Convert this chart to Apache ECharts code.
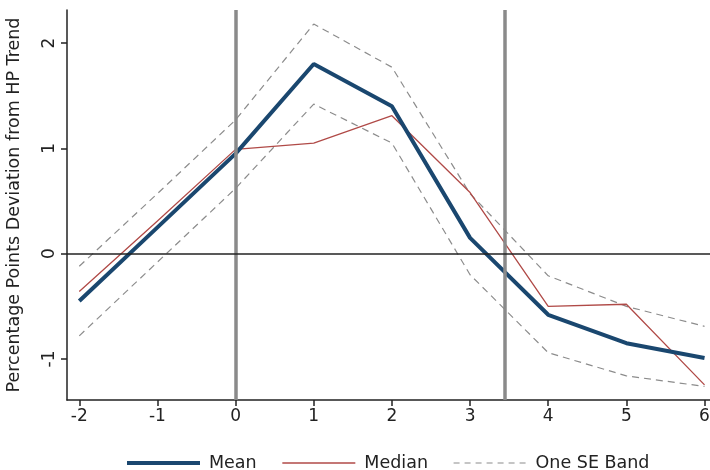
<!DOCTYPE html>
<html>
<head>
<meta charset="utf-8">
<script src="https://cdn.jsdelivr.net/npm/echarts@6/dist/echarts.min.js"></script>
<style>html,body{margin:0;padding:0;background:#fff}#c{width:710px;height:470px}</style>
</head>
<body>
<div id="c"></div>
<script>
var xs = [-2, -1, 0, 1, 2, 3, 4, 5, 6];
var meanVals = [-0.45, 0.25, 0.95, 1.80, 1.40, 0.15, -0.58, -0.85, -0.99];
var medianVals = [-0.36, 0.31, 0.99, 1.05, 1.31, 0.58, -0.50, -0.48, -1.245];
var upperVals = [-0.12, 0.57, 1.27, 2.18, 1.77, 0.57, -0.21, -0.50, -0.69];
var lowerVals = [-0.78, -0.08, 0.62, 1.42, 1.05, -0.20, -0.94, -1.16, -1.26];
var xTicks = [-2, -1, 0, 1, 2, 3, 4, 5, 6];
var yTicks = [-1, 0, 1, 2];
var vLines = [0, 3.44];
var hLines = [0];
var yTitle = 'Percentage Points Deviation from HP Trend';

function pairs(v) { return xs.map(function (x, i) { return [x, v[i]]; }); }

var FONT = 'DejaVu Sans';
var chart = echarts.init(document.getElementById('c'), null, {renderer: 'canvas'});
chart.setOption({
  animation: false,
  backgroundColor: '#fff',
  textStyle: {fontFamily: FONT},
  grid: {left: 67, right: 0, top: 10, bottom: 70, containLabel: false, outerBoundsMode: 'none'},
  xAxis: {
    type: 'value', min: -2.157, max: 6.07,
    axisLine: {show: true, onZero: false, lineStyle: {color: '#222', width: 1.5}},
    axisTick: {show: true, length: 6, customValues: xTicks, lineStyle: {color: '#222', width: 1.5}},
    axisLabel: {customValues: xTicks, color: '#222', fontSize: 17, fontFamily: FONT, margin: 8, hideOverlap: false},
    splitLine: {show: false}
  },
  yAxis: {
    type: 'value', min: -1.389, max: 2.313,
    name: yTitle, nameLocation: 'middle', nameGap: 44, nameRotate: 90,
    nameTextStyle: {color: '#222', fontSize: 17.5, fontFamily: FONT},
    axisLine: {show: true, onZero: false, lineStyle: {color: '#222', width: 1.5}},
    axisTick: {show: true, length: 6, customValues: yTicks, lineStyle: {color: '#222', width: 1.5}},
    axisLabel: {customValues: yTicks, rotate: 90, color: '#222', fontSize: 17, fontFamily: FONT, margin: 9},
    splitLine: {show: false}
  },
  legend: {
    left: 120, top: 449, itemGap: 25, itemWidth: 73, itemHeight: 14,
    itemStyle: {opacity: 0},
    textStyle: {color: '#222', fontSize: 17.5, fontFamily: FONT, padding: [0, 0, 0, 4]},
    data: [
      {name: 'Mean', lineStyle: {width: 4}, itemStyle: {opacity: 0}},
      {name: 'Median', lineStyle: {width: 1.3}, itemStyle: {opacity: 0}},
      {name: 'One SE Band', lineStyle: {width: 1.2, type: [6, 5]}, itemStyle: {opacity: 0}}
    ]
  },
  series: [
    {
      name: 'One SE Band', type: 'line', data: pairs(upperVals), symbol: 'none',
      lineStyle: {color: '#8c8c8c', width: 1.2, type: [7, 5]}, itemStyle: {color: '#8c8c8c'}, z: 2,
      markLine: {
        silent: true, symbol: 'none', label: {show: false},
        lineStyle: {color: '#8a8a8a', width: 3.5, type: 'solid'},
        data: vLines.map(function (v) { return {xAxis: v}; })
      }
    },
    {
      name: 'One SE Band', type: 'line', data: pairs(lowerVals), symbol: 'none',
      lineStyle: {color: '#8c8c8c', width: 1.2, type: [7, 5]}, itemStyle: {color: '#8c8c8c'}, z: 2,
      markLine: {
        silent: true, symbol: 'none', label: {show: false},
        lineStyle: {color: '#222', width: 1.5, type: 'solid'},
        data: hLines.map(function (v) { return {yAxis: v}; })
      }
    },
    {
      name: 'Median', type: 'line', data: pairs(medianVals), symbol: 'none',
      lineStyle: {color: '#b04a47', width: 1.3}, itemStyle: {color: '#b04a47'}, z: 3
    },
    {
      name: 'Mean', type: 'line', data: pairs(meanVals), symbol: 'none',
      lineStyle: {color: '#1a476f', width: 4}, itemStyle: {color: '#1a476f'}, z: 4
    }
  ]
});
</script>
</body>
</html>
